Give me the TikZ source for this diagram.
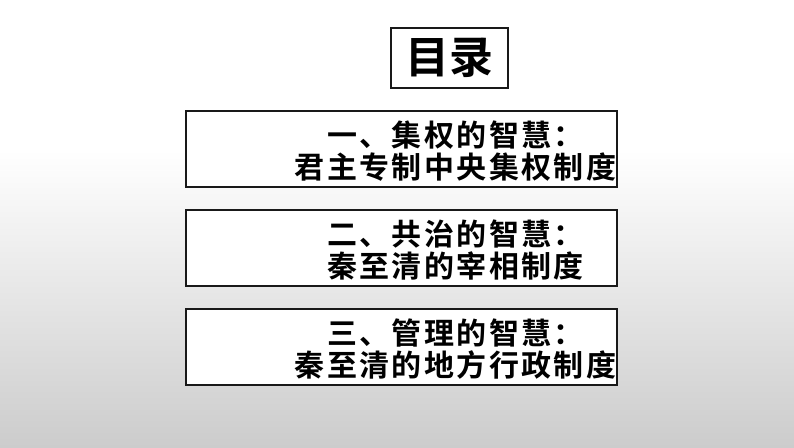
\documentclass[tikz,border=0pt]{standalone}
\usepackage{fontspec}
\newfontfamily\cjk{Noto Sans CJK SC}[BoldFont={Noto Sans CJK SC Bold}]
\begin{document}
\begin{tikzpicture}[x=1pt,y=-1pt,
  boxst/.style={draw=black!90,line width=1.2pt,fill=white,minimum width=431pt,minimum height=76pt,inner sep=0pt},
  txtst/.style={inner sep=0pt,align=center,font=\cjk\bfseries\fontsize{30}{32}\selectfont\addfontfeature{LetterSpace=8}}]
\useasboundingbox (0,0) rectangle (794,447);
\shade[top color=white,bottom color=white] (0,0) rectangle (794,150);
\shade[top color=white,bottom color=black!20] (0,150) rectangle (794,447);
\node[draw=black!90,line width=1.2pt,fill=white,minimum width=117pt,minimum height=60pt,inner sep=0pt,font=\cjk\bfseries\fontsize{44}{48}\selectfont] (t) at (449.5,58) {目录};
\node[boxst] (a) at (401.5,149) {};
\node[boxst] (b) at (401.5,248) {};
\node[boxst] (c) at (401.5,347) {};
\node[txtst] (ta) at ([xshift=54pt,yshift=-2pt]a.center) {一、集权的智慧：\\君主专制中央集权制度};
\node[txtst] (tb) at ([xshift=54pt,yshift=-2pt]b.center) {二、共治的智慧：\\秦至清的宰相制度};
\node[txtst] (tc) at ([xshift=54pt,yshift=-2pt]c.center) {三、管理的智慧：\\秦至清的地方行政制度};
\end{tikzpicture}
\end{document}
